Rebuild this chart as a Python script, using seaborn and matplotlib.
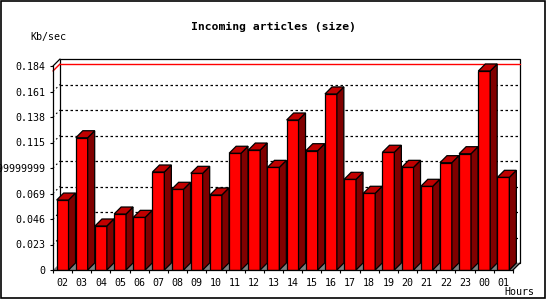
import matplotlib
matplotlib.use("Agg")
import matplotlib.pyplot as plt
from matplotlib.patches import Polygon, Rectangle
from matplotlib.lines import Line2D
import seaborn as sns
import pandas as pd
import numpy as np

# ---- data ----
hours = ["02", "03", "04", "05", "06", "07", "08", "09", "10", "11", "12", "13",
         "14", "15", "16", "17", "18", "19", "20", "21", "22", "23", "00", "01"]
kb_per_sec = [0.0631, 0.1193, 0.0397, 0.0505, 0.0475, 0.0884, 0.0728, 0.0872,
              0.0677, 0.1053, 0.1082, 0.0926, 0.1353, 0.1076, 0.1588, 0.0818,
              0.0692, 0.1062, 0.0926, 0.0755, 0.0968, 0.1049, 0.1795, 0.0836]
y_ticks = [0, 0.023, 0.046, 0.069, 0.092, 0.115, 0.138, 0.161, 0.184]
y_tick_labels = ["0", "0.023", "0.046", "0.069", "0.09199999999999999",
                 "0.115", "0.138", "0.161", "0.184"]
title = "Incoming articles (size)"
y_unit = "Kb/sec"
x_unit = "Hours"

df = pd.DataFrame({"hour": hours, "value": kb_per_sec})

sns.set_style("white")
plt.rcParams["font.family"] = ["DejaVu Sans Mono", "DejaVu Sans"]
plt.rcParams["text.color"] = "black"
plt.rcParams["xtick.color"] = "black"
plt.rcParams["ytick.color"] = "black"

W, H = 550, 300
fig = plt.figure(figsize=(5.5, 3.0), dpi=100)
ax = fig.add_axes([53 / W, 1 - 270 / H, 460 / W, 204 / H])

ymax = y_ticks[-1]
n = len(hours)
px_x = 460 / n          # pixels per category
px_y = 204 / ymax       # pixels per value unit
dx = 7 / px_x           # depth offsets in data units
dy = 7 / px_y

sns.barplot(data=df, x="hour", y="value", ax=ax, color="#ff0000",
            width=0.62, edgecolor="black", linewidth=0.9, saturation=1,
            zorder=5)

ax.set_xlim(-0.5, n - 0.5)
ax.set_ylim(0, ymax)

# back wall
wall = Rectangle((-0.5 + dx, dy), n, ymax, facecolor="white",
                 edgecolor="black", linewidth=0.9, zorder=0.5, clip_on=False)
ax.add_patch(wall)
# floor
floor = Polygon([(-0.5, 0), (n - 0.5, 0), (n - 0.5 + dx, dy), (-0.5 + dx, dy)],
                closed=True, facecolor="#808080", edgecolor="none",
                zorder=1, clip_on=False)
ax.add_patch(floor)
# corner diagonals
for (x0, y0) in [(-0.5, ymax), (n - 0.5, 0)]:
    ax.add_line(Line2D([x0, x0 + dx], [y0, y0 + dy], color="black",
                       linewidth=0.9, zorder=2, clip_on=False))

# dotted gridlines on the back wall
for t in y_ticks[1:-1]:
    ax.add_line(Line2D([-0.5 + dx, n - 0.5 + dx], [t + dy, t + dy],
                       color="black", linewidth=0.9, linestyle=(0, (2, 2)),
                       zorder=1.5, clip_on=False))
    ax.add_line(Line2D([-0.5, -0.5 + dx], [t, t + dy], color="black",
                       linewidth=0.8, linestyle=(0, (1.5, 2.5)),
                       zorder=1.5, clip_on=False))

# max line (red)
vmax = max(kb_per_sec)
ax.add_line(Line2D([-0.5 + dx, n - 0.5 + dx], [vmax + dy, vmax + dy],
                   color="#ff0000", linewidth=1.0, zorder=1.6, clip_on=False))
ax.add_line(Line2D([-0.5, -0.5 + dx], [vmax, vmax + dy],
                   color="#ff0000", linewidth=1.0, zorder=1.6, clip_on=False))

# 3D faces of bars
for p in ax.patches[:]:
    if not isinstance(p, Rectangle) or p is wall:
        continue
    x0, w, h = p.get_x(), p.get_width(), p.get_height()
    if h <= 0 or w > 1:
        continue
    x1 = x0 + w
    side = Polygon([(x1, 0), (x1 + dx, dy), (x1 + dx, h + dy), (x1, h)],
                   closed=True, facecolor="#800000", edgecolor="black",
                   linewidth=0.9, zorder=5, clip_on=False)
    top = Polygon([(x0, h), (x0 + dx, h + dy), (x1 + dx, h + dy), (x1, h)],
                  closed=True, facecolor="#c00000", edgecolor="black",
                  linewidth=0.9, zorder=5, clip_on=False)
    ax.add_patch(side)
    ax.add_patch(top)

# axes styling
for s in ["top", "right"]:
    ax.spines[s].set_visible(False)
for s in ["left", "bottom"]:
    ax.spines[s].set_color("black")
    ax.spines[s].set_linewidth(0.9)
    ax.spines[s].set_zorder(6)

ax.set_yticks(y_ticks)
ax.set_yticklabels(y_tick_labels)
ax.set_xticks(range(n))
ax.set_xticklabels(hours)
ax.set_xticks(np.arange(-0.5, n, 1.0), minor=True)
ax.tick_params(axis="x", which="major", length=0, pad=5.5, labelsize=7.2,
               colors="black")
ax.tick_params(axis="x", which="minor", length=2.5, width=0.8, direction="out",
               color="black", bottom=True)
ax.tick_params(axis="y", which="major", length=2.5, width=0.8, direction="out",
               pad=3.0, labelsize=7.2, colors="black", left=True)
ax.set_xlabel("")
ax.set_ylabel("")
ax.grid(False)
ax.patch.set_visible(False)

fig.text(273.5 / W, 1 - 27 / H, title, ha="center", va="center",
         fontsize=8.2, fontweight="bold", color="black")
fig.text(30 / W, 1 - 37 / H, y_unit, ha="left", va="center", fontsize=7.2,
         color="black")
fig.text(504 / W, 1 - 292 / H, x_unit, ha="left", va="center", fontsize=7.2,
         color="black")

# outer border
fig.patches.append(Rectangle((0.8 / W, 2 / H), 544 / W, 297 / H,
                             transform=fig.transFigure, fill=False,
                             edgecolor="black", linewidth=1.2))

fig.savefig("out.png", dpi=100)
